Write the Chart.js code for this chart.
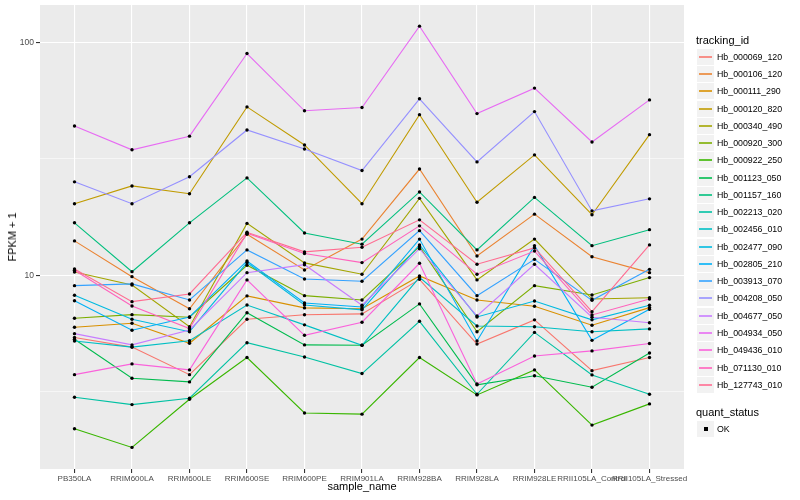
<!DOCTYPE html>
<html><head><meta charset="utf-8">
<script src="https://cdn.jsdelivr.net/npm/chart.js@4/dist/chart.umd.min.js"></script>
<style>
body{margin:0;background:#fff;font-family:"Liberation Sans",Arial,sans-serif;}
#wrap{position:relative;width:800px;height:500px;overflow:hidden;}
canvas{position:absolute;left:0;top:0;}
.t{position:absolute;white-space:nowrap;color:#000;line-height:1;font-weight:normal;}
.key{position:absolute;width:17px;height:16px;background:#F2F2F2;}
.kl{position:absolute;left:2px;width:13px;top:7px;height:2px;opacity:0.8;}
.dot{position:absolute;left:7px;top:6px;width:4px;height:4px;background:#000;}
</style></head><body>
<div id="wrap"><canvas id="c" width="800" height="500"></canvas></div>
<script>
const categories = ["PB350LA","RRIM600LA","RRIM600LE","RRIM600SE","RRIM600PE","RRIM901LA","RRIM928BA","RRIM928LA","RRIM928LE","RRII105LA_Control","RRII105LA_Stressed"];
const trackingIds = ["Hb_000069_120","Hb_000106_120","Hb_000111_290","Hb_000120_820","Hb_000340_490","Hb_000920_300","Hb_000922_250","Hb_001123_050","Hb_001157_160","Hb_002213_020","Hb_002456_010","Hb_002477_090","Hb_002805_210","Hb_003913_070","Hb_004208_050","Hb_004677_050","Hb_004934_050","Hb_049436_010","Hb_071130_010","Hb_127743_010"];
const colors = ["#F8766D","#EA8331","#D89000","#C09B00","#A3A500","#7CAE00","#39B600","#00BB4E","#00BF7D","#00C1A3","#00BFC4","#00BAE0","#00B0F6","#35A2FF","#9590FF","#C77CFF","#E76BF3","#FA62DB","#FF62BC","#FF6C91"];
const yTickValues = [3.16227766, 10, 31.6227766, 100];
const yTickLabels = ["", "10", "", "100"];

const s000069_120 = [5.4, 4.91, 3.74, 6.47, 6.76, 6.82, 9.6, 5.06, 6.43, 3.89, 4.43];
const s000106_120 = [14.05, 9.86, 7.18, 15.0, 10.54, 14.3, 28.6, 12.1, 18.3, 12.0, 10.26];
const s000111_290 = [5.98, 6.22, 5.10, 8.15, 7.24, 7.18, 9.93, 7.83, 7.36, 6.1, 7.26];
const s000120_820 = [20.3, 24.2, 22.4, 52.9, 36.3, 20.3, 49.0, 20.6, 32.9, 18.2, 40.2];
const s000340_490 = [10.33, 9.08, 6.01, 16.7, 11.3, 10.1, 21.4, 9.55, 14.3, 7.9, 8.0];
const s000920_300 = [6.53, 6.77, 6.6, 11.04, 8.17, 7.83, 13.27, 5.72, 9.02, 8.23, 9.77];
const s000922_250 = [2.19, 1.82, 2.93, 4.43, 2.56, 2.53, 4.43, 3.06, 3.92, 2.27, 2.80];
const s001123_050 = [5.31, 3.61, 3.48, 6.9, 5.02, 5.0, 7.53, 3.38, 3.70, 3.30, 4.63];
const s001157_160 = [16.8, 10.36, 16.8, 26.2, 15.2, 13.6, 22.8, 12.85, 21.6, 13.4, 15.7];
const s002213_020 = [2.99, 2.78, 2.96, 5.13, 4.45, 3.78, 6.34, 3.08, 5.68, 3.73, 3.08];
const s002456_010 = [5.22, 4.91, 5.23, 7.45, 6.12, 5.0, 9.8, 6.05, 6.01, 5.72, 5.88];
const s002477_090 = [8.2, 6.47, 5.72, 11.33, 7.45, 7.1, 13.5, 6.62, 7.75, 6.43, 7.43];
const s002805_210 = [7.77, 5.80, 6.62, 11.52, 7.6, 7.3, 14.3, 5.22, 13.4, 5.25, 7.14];
const s003913_070 = [9.02, 9.18, 7.83, 12.85, 9.64, 9.42, 15.55, 8.17, 11.7, 7.8, 10.6];
const s004208_050 = [25.2, 20.3, 26.5, 42.1, 34.9, 28.2, 57.3, 30.7, 50.5, 18.9, 21.3];
const s004677_050 = [5.61, 5.02, 5.82, 10.26, 11.1, 7.43, 13.0, 6.68, 11.15, 6.6, 6.25];
const s004934_050 = [43.8, 34.6, 39.6, 89.7, 50.9, 52.6, 117.6, 49.5, 63.7, 37.4, 56.7];
const s049436_010 = [3.74, 4.16, 3.92, 9.55, 5.52, 6.28, 11.26, 3.41, 4.5, 4.73, 5.09];
const s071130_010 = [10.51, 7.38, 5.9, 15.15, 12.4, 11.33, 16.3, 10.1, 12.7, 6.75, 7.9];
const s127743_010 = [10.64, 7.70, 8.31, 15.3, 12.6, 13.2, 17.3, 11.15, 13.1, 6.97, 13.5];

const seriesValues = [s000069_120,s000106_120,s000111_290,s000120_820,s000340_490,s000920_300,s000922_250,s001123_050,s001157_160,s002213_020,s002456_010,s002477_090,s002805_210,s003913_070,s004208_050,s004677_050,s004934_050,s049436_010,s071130_010,s127743_010];

const FONT = '"Liberation Sans", Arial, sans-serif';
const datasets = [];
seriesValues.forEach((vals, i) => {
  datasets.push({
    type: 'line', label: trackingIds[i],
    data: vals.map((v, j) => ({x: j, y: v})),
    borderColor: colors[i], borderWidth: 1.1, pointRadius: 0, fill: false, tension: 0,
    order: 100 - i
  });
});
seriesValues.forEach((vals, i) => {
  datasets.push({
    type: 'scatter', label: trackingIds[i] + ' OK',
    data: vals.map((v, j) => ({x: j, y: v})),
    pointRadius: 1.7, pointBackgroundColor: '#000', pointBorderWidth: 0, showLine: false,
    order: 0
  });
});

const panelBg = {
  id: 'panelBg',
  beforeDraw(chart) {
    const {ctx, chartArea: a} = chart;
    ctx.save(); ctx.fillStyle = '#EBEBEB';
    ctx.fillRect(a.left, a.top, a.right - a.left, a.bottom - a.top);
    ctx.restore();
  }
};
const isMajor = v => v === 10 || v === 100;

new Chart(document.getElementById('c'), {
  data: {datasets},
  plugins: [panelBg],
  options: {
    responsive: false, animation: false, devicePixelRatio: 1,
    layout: {padding: {left: 0, right: 116, top: 5, bottom: 0}},
    plugins: {legend: {display: false}, tooltip: {enabled: false}},
    scales: {
      x: {
        type: 'linear', min: -0.6, max: 10.6,
        afterBuildTicks: s => { s.ticks = categories.map((c, i) => ({value: i})); },
        afterFit: s => { s.height = 31; s.paddingLeft = 0; s.paddingRight = 0; },
        ticks: {callback: v => categories[v] ?? '', autoSkip: false, maxRotation: 0, minRotation: 0,
                color: '#4D4D4D', font: {size: 8, family: FONT}, padding: 1},
        grid: {color: '#FFFFFF', lineWidth: 1.1, tickColor: '#333333', tickLength: 4},
        border: {display: false}
      },
      y: {
        type: 'logarithmic', min: 1.47, max: 145,
        afterBuildTicks: s => { s.ticks = yTickValues.map(v => ({value: v})); },
        afterFit: s => { s.width = 40; s.paddingTop = 0; s.paddingBottom = 0; },
        ticks: {callback: (v) => { const k = yTickValues.indexOf(v); return k >= 0 ? yTickLabels[k] : ''; },
                color: '#4D4D4D', font: {size: 8.5, family: FONT}, padding: 2},
        grid: {
          color: '#FFFFFF',
          lineWidth: c => (c.tick && isMajor(c.tick.value)) ? 1.1 : 0.55,
          tickColor: c => (c.tick && isMajor(c.tick.value)) ? '#333333' : 'rgba(0,0,0,0)',
          tickLength: 4
        },
        border: {display: false}
      }
    }
  }
});

// axis titles and legend (HTML text)
const wrap = document.getElementById('wrap');
function addText(txt, css) {
  const d = document.createElement('div'); d.className = 't'; d.textContent = txt;
  Object.assign(d.style, css); wrap.appendChild(d); return d;
}
addText('sample_name', {left: '362px', top: '481px', fontSize: '11px', transform: 'translateX(-50%)'});
addText('FPKM + 1', {left: '7px', top: '237px', fontSize: '11px', writingMode: 'vertical-rl', transform: 'translateY(-50%) rotate(180deg)'});
addText('tracking_id', {left: '696px', top: '35px', fontSize: '11px'});
trackingIds.forEach((id, i) => {
  const cy = Math.round(56.7 + 17.27 * i);
  const k = document.createElement('div'); k.className = 'key';
  k.style.left = '697px'; k.style.top = (cy - 8) + 'px';
  const l = document.createElement('div'); l.className = 'kl'; l.style.background = colors[i];
  k.appendChild(l); wrap.appendChild(k);
  addText(id, {left: '717px', top: (cy - 4) + 'px', fontSize: '8.8px'});
});
addText('quant_status', {left: '696px', top: '407px', fontSize: '11px'});
const k2 = document.createElement('div'); k2.className = 'key';
k2.style.left = '697px'; k2.style.top = (429 - 8) + 'px';
const dt = document.createElement('div'); dt.className = 'dot'; k2.appendChild(dt); wrap.appendChild(k2);
addText('OK', {left: '717px', top: (429 - 4) + 'px', fontSize: '8.8px'});
</script>
</body></html>
